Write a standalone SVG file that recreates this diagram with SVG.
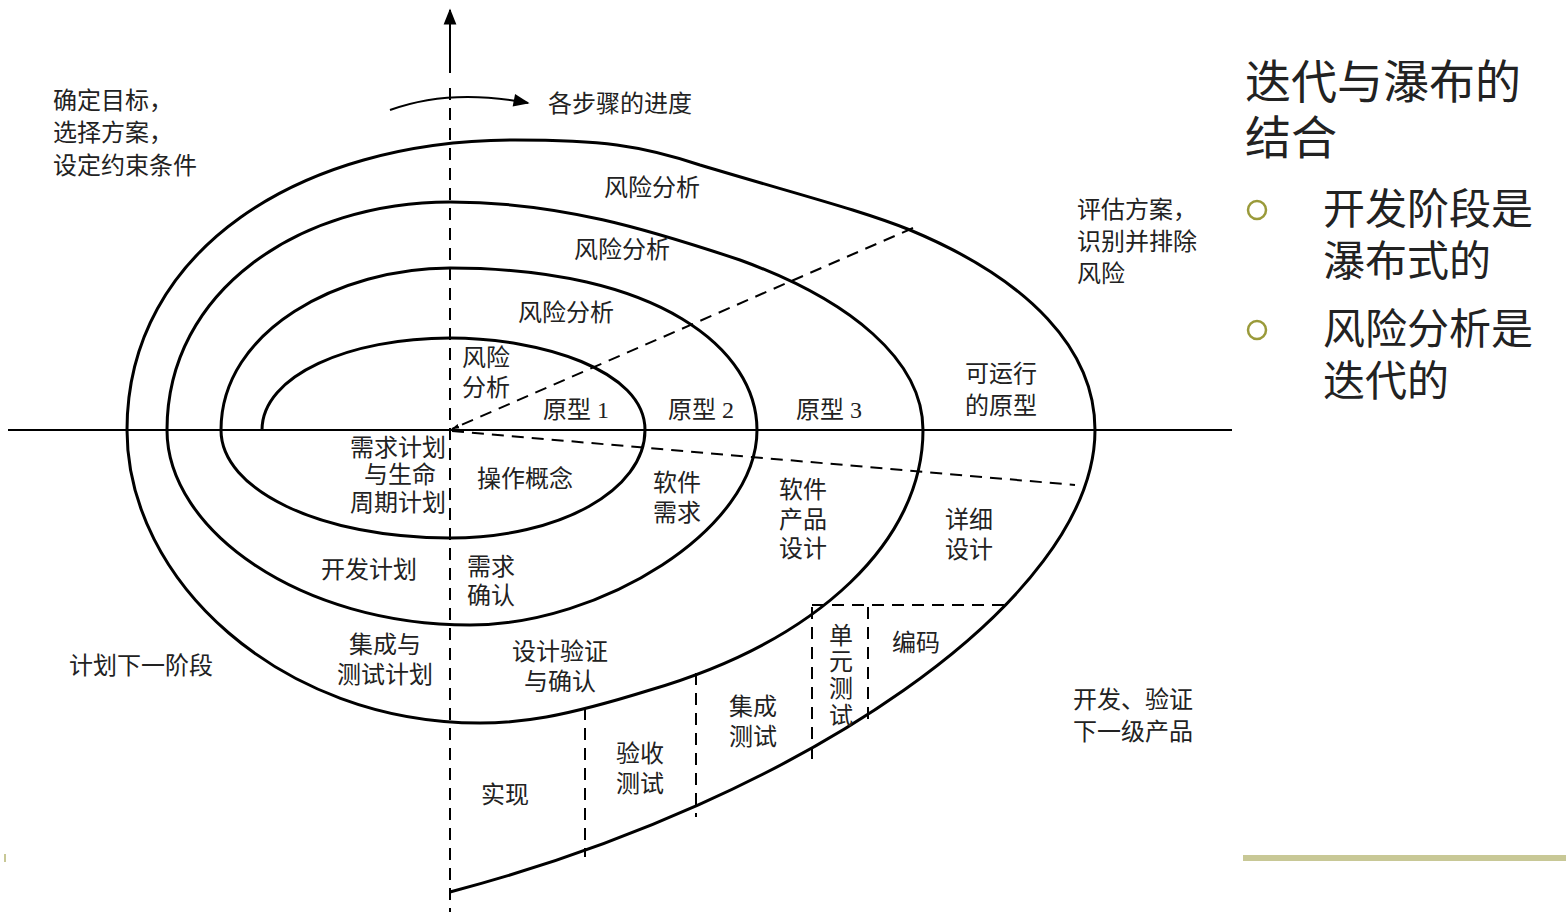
<svg xmlns="http://www.w3.org/2000/svg" width="1566" height="916" viewBox="0 0 1566 916">
<style>
.l{stroke:#000;fill:none;stroke-width:2}
.s{stroke:#000;fill:none;stroke-width:3}
.d{stroke:#000;fill:none;stroke-width:2;stroke-dasharray:12 8}
.t{font-family:"Liberation Serif","Noto Sans CJK SC",serif;font-size:24px;fill:#222;dominant-baseline:central;text-anchor:middle}
.tl{text-anchor:start}
.tr{text-anchor:end}
.b{font-family:"Noto Sans CJK SC",sans-serif;fill:#222;dominant-baseline:central}
</style>
<defs>
<marker id="a" viewBox="0 0 10 10" refX="9" refY="5" markerWidth="8" markerHeight="8" orient="auto-start-reverse" markerUnits="userSpaceOnUse"><path d="M0,2 L10,5 L0,8z" fill="#000"/></marker>
<marker id="ab" viewBox="0 0 10 10" refX="9" refY="5" markerWidth="24" markerHeight="16" orient="auto" markerUnits="userSpaceOnUse"><path d="M0,1 L10,5 L0,9z" fill="#000"/></marker>
</defs>
<rect width="1566" height="916" fill="#fff"/>
<g id="connectors">
<line class="l" x1="8" y1="430" x2="1232" y2="430"/>
<line class="l" x1="450" y1="73" x2="450" y2="10" marker-end="url(#ab)"/>
<line class="d" x1="450" y1="88" x2="450" y2="912"/>
<path class="l" d="M390,110 Q450,88 528,103" marker-end="url(#ab)"/>
<line class="d" x1="913" y1="228" x2="452" y2="429" marker-end="url(#a)"/>
<line class="d" x1="452" y1="431" x2="1075" y2="485"/>
<line class="d" x1="585" y1="708" x2="585" y2="857"/>
<line class="d" x1="696" y1="673" x2="696" y2="817"/>
<line class="d" x1="812" y1="607" x2="812" y2="760"/>
<line class="d" x1="868" y1="607" x2="868" y2="723"/>
<line class="d" x1="812" y1="605" x2="1012" y2="605"/>
<path id="spiral" class="s" d="M262,430 C262,375 350,338 450,338 C540,338 645,370 645,430 C645,490 560,538 450,538 C320,538 221,490 221,430 C221,330 340,268 450,268 C660,268 757,350 757,430 C757,530 600,625 470,625 C300,625 167,530 167,430 C167,290 300,202 450,202 C560,202 650,230 740,260 C850,300 923,360 923,430 C923,540 820,640 650,690 C560,718 520,723 480,723 C280,723 127,580 127,430 C127,250 300,140 515,140 C600,140 640,145 700,165 C800,195 860,210 910,230 C1030,280 1095,350 1095,430 C1095,600 800,800 450,892"/>
</g>
<g id="labels">
<text class="t tl" x="53" y="101">确定目标，</text>
<text class="t tl" x="53" y="133">选择方案，</text>
<text class="t tl" x="53" y="166">设定约束条件</text>
<text class="t tl" x="548" y="104">各步骤的进度</text>
<text class="t" x="652" y="188">风险分析</text>
<text class="t" x="622" y="250">风险分析</text>
<text class="t" x="566" y="313">风险分析</text>
<text class="t tl" x="462" y="358">风险</text>
<text class="t tl" x="462" y="388">分析</text>
<text class="t" x="576" y="410">原型 1</text>
<text class="t" x="701" y="410">原型 2</text>
<text class="t" x="829" y="410">原型 3</text>
<text class="t" x="1001" y="374">可运行</text>
<text class="t" x="1001" y="406">的原型</text>
<text class="t tl" x="1077" y="210">评估方案，</text>
<text class="t tl" x="1077" y="242">识别并排除</text>
<text class="t tl" x="1077" y="274">风险</text>
<text class="t tr" x="446" y="448">需求计划</text>
<text class="t tr" x="436" y="475">与生命</text>
<text class="t tr" x="446" y="503">周期计划</text>
<text class="t" x="525" y="479">操作概念</text>
<text class="t" x="677" y="483">软件</text>
<text class="t" x="677" y="513">需求</text>
<text class="t" x="803" y="490">软件</text>
<text class="t" x="803" y="520">产品</text>
<text class="t" x="803" y="549">设计</text>
<text class="t" x="969" y="520">详细</text>
<text class="t" x="969" y="550">设计</text>
<text class="t" x="369" y="570">开发计划</text>
<text class="t tl" x="467" y="567">需求</text>
<text class="t tl" x="467" y="596">确认</text>
<text class="t" x="385" y="645">集成与</text>
<text class="t" x="385" y="675">测试计划</text>
<text class="t" x="560" y="652">设计验证</text>
<text class="t" x="560" y="682">与确认</text>
<text class="t" x="141" y="666">计划下一阶段</text>
<text class="t" x="841" y="636">单</text>
<text class="t" x="841" y="662">元</text>
<text class="t" x="841" y="689">测</text>
<text class="t" x="841" y="716">试</text>
<text class="t" x="916" y="643">编码</text>
<text class="t" x="753" y="707">集成</text>
<text class="t" x="753" y="737">测试</text>
<text class="t" x="640" y="754">验收</text>
<text class="t" x="640" y="784">测试</text>
<text class="t" x="505" y="795">实现</text>
<text class="t" x="1133" y="700">开发、验证</text>
<text class="t" x="1133" y="732">下一级产品</text>
</g>
<g id="side">
<text class="b" x="1245" y="78" font-size="46">迭代与瀑布的</text>
<text class="b" x="1245" y="134" font-size="46">结合</text>
<circle cx="1257" cy="210" r="9" fill="none" stroke="#9a9a3a" stroke-width="2.5"/>
<circle cx="1257" cy="330" r="9" fill="none" stroke="#9a9a3a" stroke-width="2.5"/>
<text class="b" x="1323" y="205" font-size="42">开发阶段是</text>
<text class="b" x="1323" y="257" font-size="42">瀑布式的</text>
<text class="b" x="1323" y="325" font-size="42">风险分析是</text>
<text class="b" x="1323" y="377" font-size="42">迭代的</text>
<rect x="1243" y="855" width="323" height="6" fill="#c8c896"/>
<rect x="4" y="854" width="2" height="8" fill="#c8c896"/>
</g>
</svg>
